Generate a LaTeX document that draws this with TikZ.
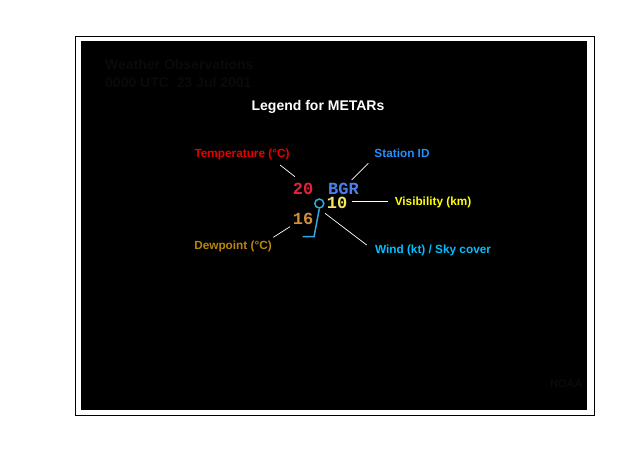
\documentclass[tikz,border=0pt]{standalone}
\usepackage{fontspec}
\setmainfont{Liberation Sans}
\newfontfamily\obsfont{Liberation Mono}
\usepackage{tikz}
\usetikzlibrary{positioning}
\usepackage{xcolor}
\definecolor{templabel}{HTML}{E80000}
\definecolor{tempval}{HTML}{E8203C}
\definecolor{idlabel}{HTML}{1E90FF}
\definecolor{idval}{HTML}{4A80E8}
\definecolor{vislabel}{HTML}{FFFF00}
\definecolor{visval}{HTML}{F5E860}
\definecolor{windlabel}{HTML}{00BFFF}
\definecolor{windval}{HTML}{30A8E0}
\definecolor{dewlabel}{HTML}{B8860B}
\definecolor{dewval}{HTML}{D0903A}
\definecolor{faintgray}{HTML}{0A0A0A}

\begin{document}
\begin{tikzpicture}[x=1pt,y=-1pt,
  lbl/.style={font=\bfseries\fontsize{11.8}{14}\selectfont, inner sep=0pt, anchor=base},
  obs/.style={font=\obsfont\bfseries\fontsize{17}{20}\selectfont, inner sep=0pt, anchor=base,
    text height=10pt, text depth=0pt},
  faint/.style={font=\bfseries\fontsize{14}{16}\selectfont, text=faintgray, inner sep=0pt, anchor=base west},
  leader/.style={draw=white, line width=0.7pt},
  barb/.style={draw=windval, line width=1.5pt}]
  \useasboundingbox (0,0) rectangle (620,475);

  % 枠と背景
  \draw[line width=0.8pt] (75,36) rectangle (594,415);
  \fill[black] (81,41) rectangle (587,410);

  % 背景のかすかな文字
  \node[faint] (obstitle) at (105,69) {Weather Observations};
  \node[faint] (obstime) at (105,87) {0000 UTC\ \ 23 Jul 2001};
  \node[faint, font=\bfseries\fontsize{11}{13}\selectfont] (noaa) at (550,387) {NOAA};

  % 見出し
  \node[lbl, text=white, font=\bfseries\fontsize{14}{16}\selectfont] (title) at (318,110) {Legend for METARs};

  % 地点プロット
  \node[obs, text=tempval] (temp) at (303,194.3) {20};
  \node[obs, text=idval] (stid) at (343.5,194.3) {BGR};
  \node[obs, text=visval] (vis) at (337,208.3) {10};
  \node[obs, text=dewval] (dew) at (303,224.3) {16};
  \node[circle, barb, minimum size=9pt, inner sep=0pt] (sky) at (319.3,203.5) {};
  \coordinate (barbknee) at (314,236.7);
  \coordinate (barbtip) at (302.7,236.7);
  \draw[barb, line join=miter] (sky.south) -- (barbknee) -- (barbtip);

  % 凡例ラベル
  \node[lbl, text=templabel] (templbl) at (242,157.3) {Temperature (°C)};
  \node[lbl, text=idlabel] (idlbl) at (402,157.3) {Station ID};
  \node[lbl, text=vislabel] (vislbl) at (433,205.7) {Visibility (km)};
  \node[lbl, text=windlabel] (windlbl) at (433,253.3) {Wind (kt) / Sky cover};
  \node[lbl, text=dewlabel] (dewlbl) at (233,249.3) {Dewpoint (°C)};

  % 引き出し線
  \coordinate (tempA) at (280,165);   \coordinate (tempB) at (295,176.7);
  \coordinate (idA) at (368.3,163.3); \coordinate (idB) at (351.7,180);
  \coordinate (visA) at (351.7,201.7); \coordinate (visB) at (388.3,201.7);
  \coordinate (windA) at (325,213.3); \coordinate (windB) at (366.7,245);
  \coordinate (dewA) at (273.3,237.3); \coordinate (dewB) at (290,226.7);
  \draw[leader] (tempA) -- (tempB);
  \draw[leader] (idA) -- (idB);
  \draw[leader] (visA) -- (visB);
  \draw[leader] (windA) -- (windB);
  \draw[leader] (dewA) -- (dewB);
\end{tikzpicture}
\end{document}
